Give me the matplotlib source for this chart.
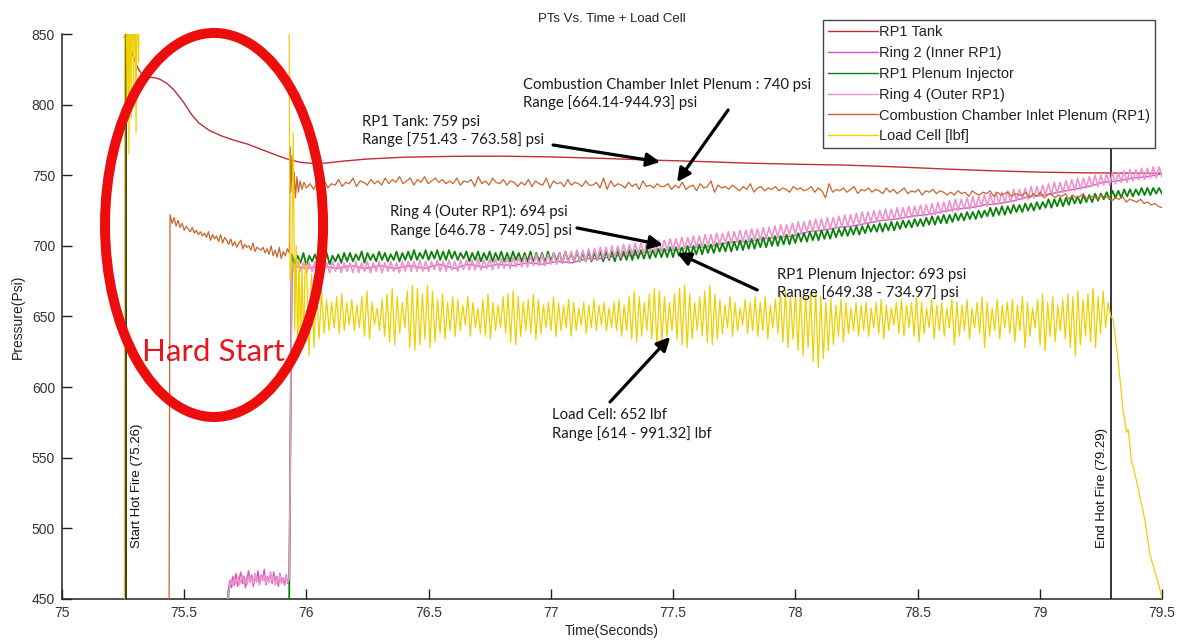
import numpy as np
import matplotlib
matplotlib.use("Agg")
import matplotlib.pyplot as plt
from matplotlib.patches import Ellipse

# ---------------- data ----------------
x_ticks = [75, 75.5, 76, 76.5, 77, 77.5, 78, 78.5, 79, 79.5]
x_tick_labels = ["75", "75.5", "76", "76.5", "77", "77.5", "78", "78.5", "79", "79.5"]
y_ticks = [450, 500, 550, 600, 650, 700, 750, 800, 850]

start_fire = 75.26
end_fire = 79.29

# RP1 tank pressure
tank_time = [75.255, 75.27, 75.29, 75.31, 75.33, 75.35, 75.38, 75.40, 75.43, 75.46,
             75.50, 75.53, 75.56, 75.60, 75.65, 75.70, 75.76, 75.82, 75.88, 75.93,
             75.98, 76.02, 76.08, 76.15, 76.25, 76.40, 76.60, 76.80, 77.00, 77.20,
             77.40, 77.60, 77.80, 78.00, 78.20, 78.40, 78.60, 78.80, 79.00, 79.20,
             79.40, 79.50]
tank_psi = [848, 843, 835, 826, 820.5, 819.5, 819, 818, 815, 810,
            801, 793, 787, 782, 778, 775, 772, 768, 764, 761,
            759, 758.5, 758.6, 760, 761.5, 762.8, 763.4, 763.5, 763, 762,
            760.8, 759.8, 758.6, 757.8, 757.2, 756, 754.5, 753.2, 752.2, 751.7,
            751.5, 751.4]

# Combustion chamber inlet plenum
cc_pre_psi = [722, 716, 720, 714, 718, 713, 716, 711, 714, 712, 710, 713, 709, 711, 708,
              710, 707, 709, 706, 710, 704, 708, 705, 707, 703, 708, 702, 706, 704, 701,
              705, 700, 703, 699, 702, 704, 698, 701, 699, 700, 697, 702, 696, 699, 698,
              697, 699, 695, 698, 694, 700, 693, 697, 692, 699, 691, 696, 693, 698, 695]
cc_jump_time = [75.933, 75.936, 75.941, 75.945, 75.950, 75.955, 75.961, 75.967, 75.974, 75.982, 75.990]
cc_jump_psi = [770, 738, 764, 728, 752, 734, 749, 738, 746, 740, 745]
cc_run_psi = [
    741, 744, 740, 745, 742, 746, 741, 744, 743, 747, 742, 745, 744, 748, 742, 746, 745, 743, 747, 744,
    746, 743, 748, 744, 747, 745, 749, 744, 746, 748, 743, 747, 745, 749, 744, 746, 748, 745, 747, 744,
    746, 744, 748, 743, 746, 745, 747, 742, 749, 744, 746, 743, 748, 745, 744, 747, 743, 746, 745, 742,
    745, 743, 747, 742, 746, 744, 743, 748, 741, 746, 744, 745, 742, 747, 743, 745, 744, 742, 746, 743,
    743, 745, 741, 748, 740, 746, 742, 744, 743, 741, 745, 742, 744, 740, 746, 742, 743, 741, 744, 742,
    742, 744, 740, 743, 741, 745, 740, 742, 743, 739, 744, 741, 742, 746, 738, 743, 741, 742, 740, 743,
    741, 739, 742, 740, 744, 738, 741, 742, 739, 741, 740, 742, 739, 741, 740, 738, 742, 740, 741, 739,
    740, 742, 738, 741, 739, 734, 744, 738, 740, 739, 741, 738, 740, 742, 737, 740, 739, 741, 738, 740,
    739, 737, 741, 738, 740, 737, 739, 741, 737, 739, 738, 740, 736, 739, 738, 740, 737, 739, 738, 736,
    738, 736, 739, 737, 738, 735, 739, 737, 736, 738, 737, 739, 735, 738, 736, 737, 738, 735, 737, 736,
    736, 738, 734, 737, 735, 738, 734, 736, 737, 734, 736, 735, 737, 733, 736, 734, 735, 737, 733, 735,
    735, 733, 736, 734, 735, 732, 734, 733, 735, 731, 733, 732, 731, 733, 730, 731, 729, 730, 728, 727]

# Ring 4 (outer RP1)
ring4_pre_psi = [452, 460, 464, 459, 465, 461, 466, 460, 463, 467, 461, 464, 460, 466, 462,
                 465, 461, 468, 462, 464, 460, 466, 463, 467, 461, 465, 462, 469, 463, 466,
                 460, 465, 462, 467, 461, 464, 463, 466, 462, 465]
ring4_run_psi = [
    688, 681, 689, 682, 688, 681, 688, 682, 689, 681, 688, 682, 688, 681, 689, 682, 688, 681, 688, 682,
    688, 681, 689, 681, 688, 682, 689, 681, 688, 682, 689, 681, 688, 682, 689, 682, 688, 681, 689, 682,
    689, 682, 689, 682, 690, 682, 689, 682, 689, 683, 690, 682, 689, 682, 690, 683, 689, 682, 690, 683,
    690, 683, 690, 683, 691, 683, 690, 684, 691, 683, 691, 684, 691, 684, 692, 684, 692, 685, 692, 685,
    693, 685, 693, 686, 694, 686, 694, 686, 694, 687, 695, 687, 695, 688, 696, 688, 696, 689, 697, 689,
    697, 689, 698, 690, 698, 690, 699, 691, 699, 691, 700, 692, 700, 692, 701, 693, 701, 694, 702, 694,
    702, 694, 703, 695, 703, 695, 704, 696, 704, 697, 705, 697, 705, 698, 706, 698, 706, 699, 707, 699,
    707, 699, 708, 700, 708, 700, 709, 701, 709, 702, 710, 702, 710, 703, 711, 703, 711, 704, 712, 704,
    712, 704, 713, 705, 713, 706, 714, 706, 715, 707, 715, 708, 716, 708, 717, 709, 717, 710, 718, 710,
    719, 711, 719, 711, 720, 712, 720, 713, 721, 713, 722, 714, 722, 715, 723, 715, 724, 716, 724, 717,
    725, 717, 725, 718, 726, 718, 726, 719, 727, 719, 727, 720, 728, 720, 728, 721, 729, 721, 729, 722,
    730, 722, 731, 723, 731, 724, 732, 724, 733, 725, 733, 726, 734, 726, 735, 727, 735, 728, 736, 728,
    737, 729, 738, 730, 738, 731, 739, 731, 740, 732, 740, 733, 741, 733, 742, 734, 742, 735, 743, 736,
    744, 736, 745, 737, 745, 738, 746, 739, 747, 739, 748, 740, 748, 741, 749, 742, 750, 742, 750, 743,
    751, 743, 752, 744, 752, 745, 753, 745, 754, 746, 754, 747, 755, 747, 755, 748, 756, 748, 756, 749]

# Ring 2 (inner RP1)
ring2_pre_psi = [455, 463, 458, 466, 460, 468, 459, 464, 469, 461, 466, 458, 465, 470, 462,
                 467, 459, 466, 463, 470, 461, 467, 464, 471, 460, 466, 462, 468, 461, 469,
                 463, 466, 459, 468, 462, 465, 460, 467, 461, 464]
ring2_run_psi = [686, 684, 686, 684, 686, 684, 686, 684, 686, 684,
                 687, 684, 687, 685, 687, 686, 688, 687, 689, 688,
                 691, 691, 693, 693, 695, 697, 697, 699, 699, 701,
                 703, 703, 705, 706, 707, 710, 711, 713, 714, 716,
                 718, 719, 721, 722, 724, 726, 727, 729, 730, 732,
                 735, 736, 738, 740, 742, 745, 746, 748, 749, 751]

# RP1 plenum injector
inj_pre_time = [75.676, 75.683]
inj_pre_psi = [440, 458]
inj_run_psi = [
    694, 687, 693, 688, 695, 686, 693, 689, 694, 687, 692, 688, 695, 687, 693, 689, 694, 688, 695, 689,
    695, 689, 694, 690, 696, 688, 695, 690, 694, 689, 696, 690, 695, 689, 694, 690, 696, 689, 695, 690,
    696, 690, 697, 690, 695, 691, 697, 690, 696, 691, 697, 690, 696, 690, 697, 691, 696, 690, 695, 691,
    696, 689, 695, 690, 696, 689, 695, 690, 696, 689, 695, 690, 696, 689, 695, 689, 696, 690, 695, 689,
    695, 689, 696, 688, 695, 689, 695, 688, 696, 689, 695, 689, 695, 688, 696, 689, 695, 689, 696, 689,
    695, 689, 696, 689, 695, 690, 696, 689, 696, 690, 696, 689, 697, 690, 696, 690, 697, 690, 697, 691,
    697, 691, 698, 691, 697, 692, 698, 692, 698, 692, 699, 692, 699, 693, 699, 693, 700, 693, 700, 694,
    701, 694, 701, 695, 701, 695, 702, 696, 702, 696, 703, 696, 703, 697, 704, 697, 704, 698, 705, 698,
    705, 699, 706, 699, 706, 700, 707, 700, 707, 701, 708, 701, 708, 702, 709, 703, 709, 703, 710, 704,
    710, 704, 711, 705, 711, 705, 712, 706, 712, 707, 713, 707, 713, 708, 714, 708, 714, 709, 715, 710,
    715, 710, 716, 710, 716, 711, 717, 711, 717, 712, 718, 713, 718, 713, 719, 714, 719, 714, 720, 715,
    721, 715, 721, 716, 722, 716, 722, 717, 723, 718, 723, 718, 724, 719, 724, 719, 725, 720, 725, 721,
    727, 721, 727, 722, 728, 722, 728, 723, 729, 724, 729, 724, 730, 725, 730, 725, 731, 726, 731, 727,
    733, 727, 733, 728, 734, 728, 734, 729, 735, 730, 735, 730, 736, 731, 736, 731, 737, 732, 737, 733,
    738, 733, 739, 734, 739, 734, 740, 735, 740, 735, 740, 736, 741, 736, 741, 736, 741, 737, 741, 737]

# Load cell
lc_pre_time = [75.250, 75.255, 75.257, 75.262, 75.266, 75.270, 75.274, 75.278, 75.283, 75.288,
               75.293, 75.298, 75.303, 75.308, 75.313, 75.318, 75.928, 75.933, 75.940, 75.946,
               75.952, 75.958, 75.964, 75.970, 75.976, 75.982, 75.988, 75.994]
lc_pre_lbf = [430, 430, 905, 905, 800, 905, 765, 905, 790, 905,
              810, 905, 780, 905, 830, 905, 905, 676, 690, 780,
              640, 700, 625, 690, 630, 685, 628, 680]
lc_run_lbf = [
    688, 622, 680, 628, 672, 634, 668, 638, 662, 640, 660, 642, 664, 638, 666, 640, 660, 644, 662, 640,
    658, 642, 664, 636, 668, 634, 660, 644, 656, 640, 662, 636, 666, 632, 670, 630, 664, 638, 660, 642,
    668, 628, 672, 626, 670, 630, 666, 634, 672, 628, 668, 632, 662, 638, 666, 634, 660, 640, 664, 636,
    662, 640, 658, 644, 664, 636, 660, 642, 656, 638, 662, 636, 666, 634, 660, 640, 658, 642, 664, 638,
    666, 632, 668, 630, 664, 636, 660, 640, 662, 638, 666, 634, 662, 638, 658, 642, 660, 640, 664, 636,
    660, 640, 658, 642, 662, 636, 660, 640, 656, 644, 660, 638, 658, 642, 662, 640, 658, 644, 660, 640,
    656, 642, 660, 640, 662, 636, 658, 640, 664, 634, 668, 632, 664, 636, 660, 640, 666, 634, 670, 630,
    668, 632, 664, 636, 660, 640, 666, 634, 670, 630, 672, 628, 666, 634, 660, 640, 664, 636, 668, 632,
    672, 630, 666, 634, 662, 638, 658, 642, 664, 636, 660, 640, 656, 644, 662, 638, 660, 640, 664, 636,
    660, 640, 664, 634, 658, 642, 662, 638, 666, 632, 668, 628, 664, 634, 666, 626, 668, 622, 664, 628,
    666, 618, 668, 614, 664, 620, 660, 626, 662, 630, 658, 636, 662, 632, 660, 638, 656, 640, 660, 636,
    658, 640, 660, 636, 656, 642, 660, 638, 662, 634, 658, 640, 656, 644, 660, 638, 662, 636, 658, 642,
    660, 636, 664, 632, 660, 638, 656, 642, 662, 634, 658, 640, 660, 636, 656, 642, 662, 630, 660, 636,
    658, 640, 662, 634, 656, 642, 660, 638, 664, 628, 660, 636, 656, 640, 662, 634, 658, 642, 660, 638,
    662, 632, 658, 640, 664, 628, 660, 636, 656, 642, 662, 630, 666, 626, 660, 636, 664, 632, 658, 640,
    662, 634, 666, 628, 664, 622, 668, 630, 662, 636, 666, 632, 670, 628, 664, 638, 668, 642, 660, 650]
lc_tail_time = [79.30, 79.32, 79.34, 79.355, 79.362, 79.375, 79.39, 79.41, 79.43, 79.45, 79.47, 79.49, 79.50]
lc_tail_lbf = [648, 620, 585, 568, 570, 548, 538, 522, 506, 482, 470, 458, 450]

# ---------------- assemble sampled segments ----------------
cc_time = np.concatenate([[75.438], np.linspace(75.442, 75.930, len(cc_pre_psi)),
                          cc_jump_time, np.linspace(76.0, 79.5, len(cc_run_psi))])
cc_psi = np.concatenate([[440], cc_pre_psi, cc_jump_psi, cc_run_psi])

ring4_time = np.concatenate([[75.675], np.linspace(75.68, 75.93, len(ring4_pre_psi)),
                             np.linspace(75.94, 79.5, len(ring4_run_psi))])
ring4_psi = np.concatenate([[440], ring4_pre_psi, ring4_run_psi])

ring2_time = np.concatenate([[75.675], np.linspace(75.68, 75.93, len(ring2_pre_psi)),
                             np.linspace(75.94, 79.5, len(ring2_run_psi))])
ring2_psi = np.concatenate([[440], ring2_pre_psi, ring2_run_psi])

inj_time = np.concatenate([inj_pre_time, [np.nan, 75.929],
                           np.linspace(75.94, 79.5, len(inj_run_psi))])
inj_psi = np.concatenate([inj_pre_psi, [np.nan, 440], inj_run_psi])

lc_time = np.concatenate([lc_pre_time, np.linspace(76.0, end_fire, len(lc_run_lbf)), lc_tail_time])
lc_lbf = np.concatenate([lc_pre_lbf, lc_run_lbf, lc_tail_lbf])

# ---------------- figure ----------------
W, H, DPI = 1182, 642, 100
fig = plt.figure(figsize=(W / DPI, H / DPI), dpi=DPI)
ax = fig.add_axes([62 / W, 1 - 599 / H, (1162 - 62) / W, (599 - 34) / H])

tick_font = "Liberation Sans"
note_font = "Lato"

ax.plot(tank_time, tank_psi, color="#c42a3a", lw=1.0, label="RP1 Tank", zorder=3)
ax.plot(ring2_time, ring2_psi, color="#d850c8", lw=1.0, label="Ring 2 (Inner RP1)", zorder=3)
ax.plot(inj_time, inj_psi, color="#0c820c", lw=1.3, label="RP1 Plenum Injector", zorder=3)
ax.plot(ring4_time, ring4_psi, color="#ec94cc", lw=1.2, label="Ring 4 (Outer RP1)", zorder=3)
ax.plot(cc_time, cc_psi, color="#c8662e", lw=0.9, label="Combustion Chamber Inlet Plenum (RP1)", zorder=3)
ax.plot(lc_time, lc_lbf, color="#efd000", lw=0.9, label="Load Cell [lbf]", zorder=3)

for t in (start_fire, end_fire):
    ax.axvline(t, color="black", lw=1.1, zorder=2)

ax.text(75.307, 486, "Start Hot Fire (75.26)", rotation=90, ha="center", va="bottom",
        fontsize=9.5, family=tick_font, color="#111")
ax.text(79.255, 486, "End Hot Fire (79.29)", rotation=90, ha="center", va="bottom",
        fontsize=9.5, family=tick_font, color="#111")

ax.set_xlim(75, 79.5)
ax.set_ylim(450, 850)
ax.set_xticks(x_ticks)
ax.set_xticklabels(x_tick_labels)
ax.set_yticks(y_ticks)
ax.tick_params(direction="in", length=7.5, width=1.0, colors="#222", labelsize=10,
               pad=5, labelcolor="#333")
for lab in ax.get_xticklabels() + ax.get_yticklabels():
    lab.set_family(tick_font)
for s in ("top", "right"):
    ax.spines[s].set_visible(False)
for s in ("left", "bottom"):
    ax.spines[s].set_color("#222")
    ax.spines[s].set_linewidth(1.1)

ax.set_title("PTs Vs. Time + Load Cell", fontsize=9.5, family=tick_font, color="#222", pad=9)
ax.set_xlabel("Time(Seconds)", fontsize=10, family=tick_font, color="#222", labelpad=3)
ax.set_ylabel("Pressure(Psi)", fontsize=10, family=tick_font, color="#222", labelpad=5)

# value call-outs
notes = [
    ("Combustion Chamber Inlet Plenum : 740 psi\nRange [664.14-944.93] psi", (76.886, 807.5),
     (77.725, 796.2), (77.516, 745.2)),
    ("RP1 Tank: 759 psi\nRange [751.43 - 763.58] psi", (76.227, 781.3),
     (77.009, 771.4), (77.447, 759.4)),
    ("Ring 4 (Outer RP1): 694 psi\nRange [646.78 - 749.05] psi", (76.342, 717.6),
     (77.107, 712.7), (77.459, 700.6)),
    ("RP1 Plenum Injector: 693 psi\nRange [649.38 - 734.97] psi", (77.926, 673.0),
     (77.844, 668.8), (77.516, 695.0)),
    ("Load Cell: 652 lbf\nRange [614 - 991.32] lbf", (77.005, 573.5),
     (77.242, 589.5), (77.488, 635.5)),
]
for text, pos, tail, head in notes:
    ax.text(pos[0], pos[1], text, ha="left", va="center", fontsize=10.7, family=note_font,
            color="#1a1a1a", linespacing=1.3, zorder=6)
    ax.annotate("", xy=head, xytext=tail,
                arrowprops=dict(arrowstyle="-|>", color="black", lw=2.3, mutation_scale=20,
                                shrinkA=0, shrinkB=0), zorder=6)

# hard-start highlight
ax.add_patch(Ellipse((75.622, 714.8), 0.892, 271.9, fill=False, edgecolor="#ee0d0d",
                     lw=7.2, clip_on=False, zorder=7))
ax.text(75.618, 625, "Hard Start", ha="center", va="center", fontsize=22.5, family=note_font,
        color="#e8141e", zorder=7)

leg = ax.legend(loc="upper left", bbox_to_anchor=(823 / W, 1 - 20 / H), bbox_transform=fig.transFigure,
                prop={"family": tick_font, "size": 10.5}, frameon=True, fancybox=False,
                handlelength=3.4, handletextpad=0.1, labelspacing=0.47, borderpad=0.35,
                borderaxespad=0)
leg.get_frame().set_edgecolor("#444")
leg.get_frame().set_linewidth(1.0)
leg.get_frame().set_alpha(1)
leg.set_zorder(10)
for line in leg.get_lines():
    line.set_linewidth(1.0)
for txt in leg.get_texts():
    txt.set_color("#222")

fig.savefig("out.png", dpi=DPI, facecolor="white")
